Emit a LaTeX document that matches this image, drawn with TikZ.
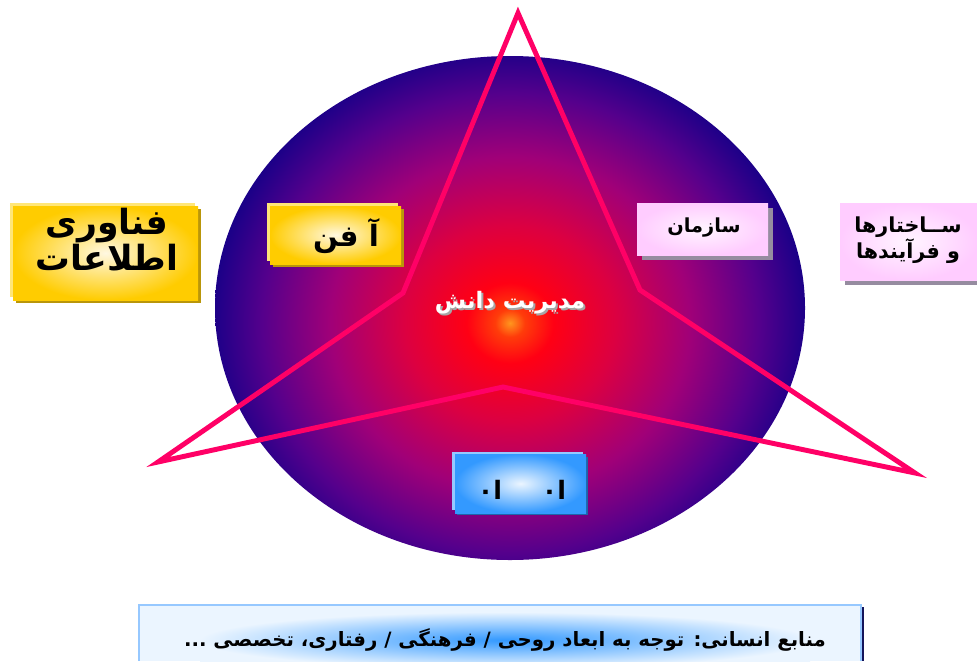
\documentclass[tikz,border=0pt]{standalone}
\usepackage{fontspec}
\newfontfamily\arabicfont[Script=Arabic]{DejaVu Sans}
\TeXXeTstate=1
\definecolor{kmA}{RGB}{255,150,30}
\definecolor{kmB}{RGB}{255,60,10}
\definecolor{kmC}{RGB}{255,0,20}
\definecolor{kmD}{RGB}{220,0,65}
\definecolor{kmE}{RGB}{160,0,120}
\definecolor{kmF}{RGB}{85,0,140}
\definecolor{kmG}{RGB}{12,0,135}
\definecolor{starpink}{RGB}{255,0,102}
\definecolor{gold}{RGB}{255,204,0}
\definecolor{goldlight}{RGB}{255,248,225}
\definecolor{goldrim}{RGB}{255,230,120}
\definecolor{goldshadow}{RGB}{185,150,10}
\definecolor{pinkface}{RGB}{255,204,255}
\definecolor{pinklight}{RGB}{255,245,255}
\definecolor{pinkshadow}{RGB}{150,140,160}
\definecolor{blueface}{RGB}{51,153,255}
\definecolor{bluelight}{RGB}{235,245,255}
\definecolor{bluerim}{RGB}{150,200,255}
\definecolor{blueshadow}{RGB}{30,100,170}
\definecolor{navyedge}{RGB}{20,20,90}
\pgfdeclareradialshading{kmglow}{\pgfpoint{0bp}{0bp}}{color(0bp)=(kmA); color(1.2bp)=(kmB); color(3.5bp)=(kmC); color(8.5bp)=(kmD); color(14.5bp)=(kmE); color(20bp)=(kmF); color(25bp)=(kmG); color(50bp)=(kmG)}
\tikzset{
  txt/.style={text=black, inner sep=0pt},
}
\begin{document}
\begin{tikzpicture}[x=0.75pt,y=-0.75pt]
\useasboundingbox (0,0) rectangle (977,661);
\clip (0,0) rectangle (977,661);
\fill[white] (0,0) rectangle (977,661);
% ellipse with glow
\begin{scope}
  \clip (510,308) ellipse [x radius=221.25pt, y radius=189pt];
  \shade[shading=kmglow] (510,323) ellipse [x radius=232.5pt, y radius=215pt];
\end{scope}
% star
\coordinate (top) at (518,13);
\coordinate (ir) at (640,290);
\coordinate (rp) at (915,473);
\coordinate (ib) at (503,387);
\coordinate (lp) at (158,462);
\coordinate (il) at (403,293);
\draw[starpink, line width=3.7pt, line join=miter] (top) -- (ir) -- (rp) -- (ib) -- (lp) -- (il) -- cycle;
% yellow box left
\fill[goldshadow] (16,209) rectangle (201,303);
\fill[goldrim] (10,203) rectangle (195,297);
\shade[inner color=goldlight, outer color=gold] (13,206) rectangle (198,300);
\node[txt, font=\arabicfont\bfseries\fontsize{26}{19}\selectfont, align=center] (it) at (107,240)
  {\beginR فناوری\endR\\\beginR اطلاعات\endR};
% yellow box 2
\fill[goldshadow] (273,209) rectangle (404,267);
\fill[goldrim] (267,203) rectangle (398,261);
\shade[inner color=goldlight, outer color=gold] (270,206) rectangle (401,264);
\node[txt, font=\arabicfont\bfseries\fontsize{22}{24}\selectfont] (am) at (346,236) {\beginR آ فن\endR};
% pink box sazman
\fill[pinkshadow] (642,208) rectangle (773,260);
\shade[inner color=pinklight, outer color=pinkface] (637,203) rectangle (768,255);
\node[txt, font=\arabicfont\bfseries\fontsize{14.5}{15}\selectfont] (sz) at (704,228) {\beginR سازمان\endR};
% pink box right
\fill[pinkshadow] (845,208) rectangle (982,285);
\shade[inner color=pinklight, outer color=pinkface] (840,203) rectangle (977,280);
\node[txt, font=\arabicfont\bfseries\fontsize{15.5}{20}\selectfont, align=center] (sp) at (908,240)
  {\beginR ســاختارها\endR\\\beginR و فرآیندها\endR};
% blue box
\fill[blueshadow] (457,457) rectangle (588,515);
\fill[bluerim] (452,452) rectangle (583,510);
\shade[inner color=bluelight, outer color=blueface] (455,454) rectangle (586,513);
\node[txt, font=\arabicfont\bfseries\fontsize{19}{20}\selectfont] (bb) at (522,490) {\beginR ا۰\hspace{30pt}ا۰\endR};
% center text
\node[txt, text=gray!70, font=\arabicfont\bfseries\fontsize{17}{18}\selectfont] at (512,305) {\beginR مدیریت دانش\endR};
\node[txt, text=white, font=\arabicfont\bfseries\fontsize{17}{18}\selectfont] (km) at (510,303) {\beginR مدیریت دانش\endR};
% bottom box
\fill[navyedge] (861,607) rectangle (864,661);
\fill[bluerim] (138,604) rectangle (862,661);
\begin{scope}
  \clip (140,606) rectangle (860,661);
  \fill[bluelight] (140,606) rectangle (860,661);
  \shade[inner color=blueface, outer color=bluelight] (200,612) rectangle (810,668);
\end{scope}
\node[txt, font=\arabicfont\bfseries\fontsize{14.8}{16}\selectfont] (hr) at (505,640)
  {\beginR منابع انسانی: توجه به ابعاد روحی / فرهنگی / رفتاری، تخصصی ...\endR};
\end{tikzpicture}
\end{document}
